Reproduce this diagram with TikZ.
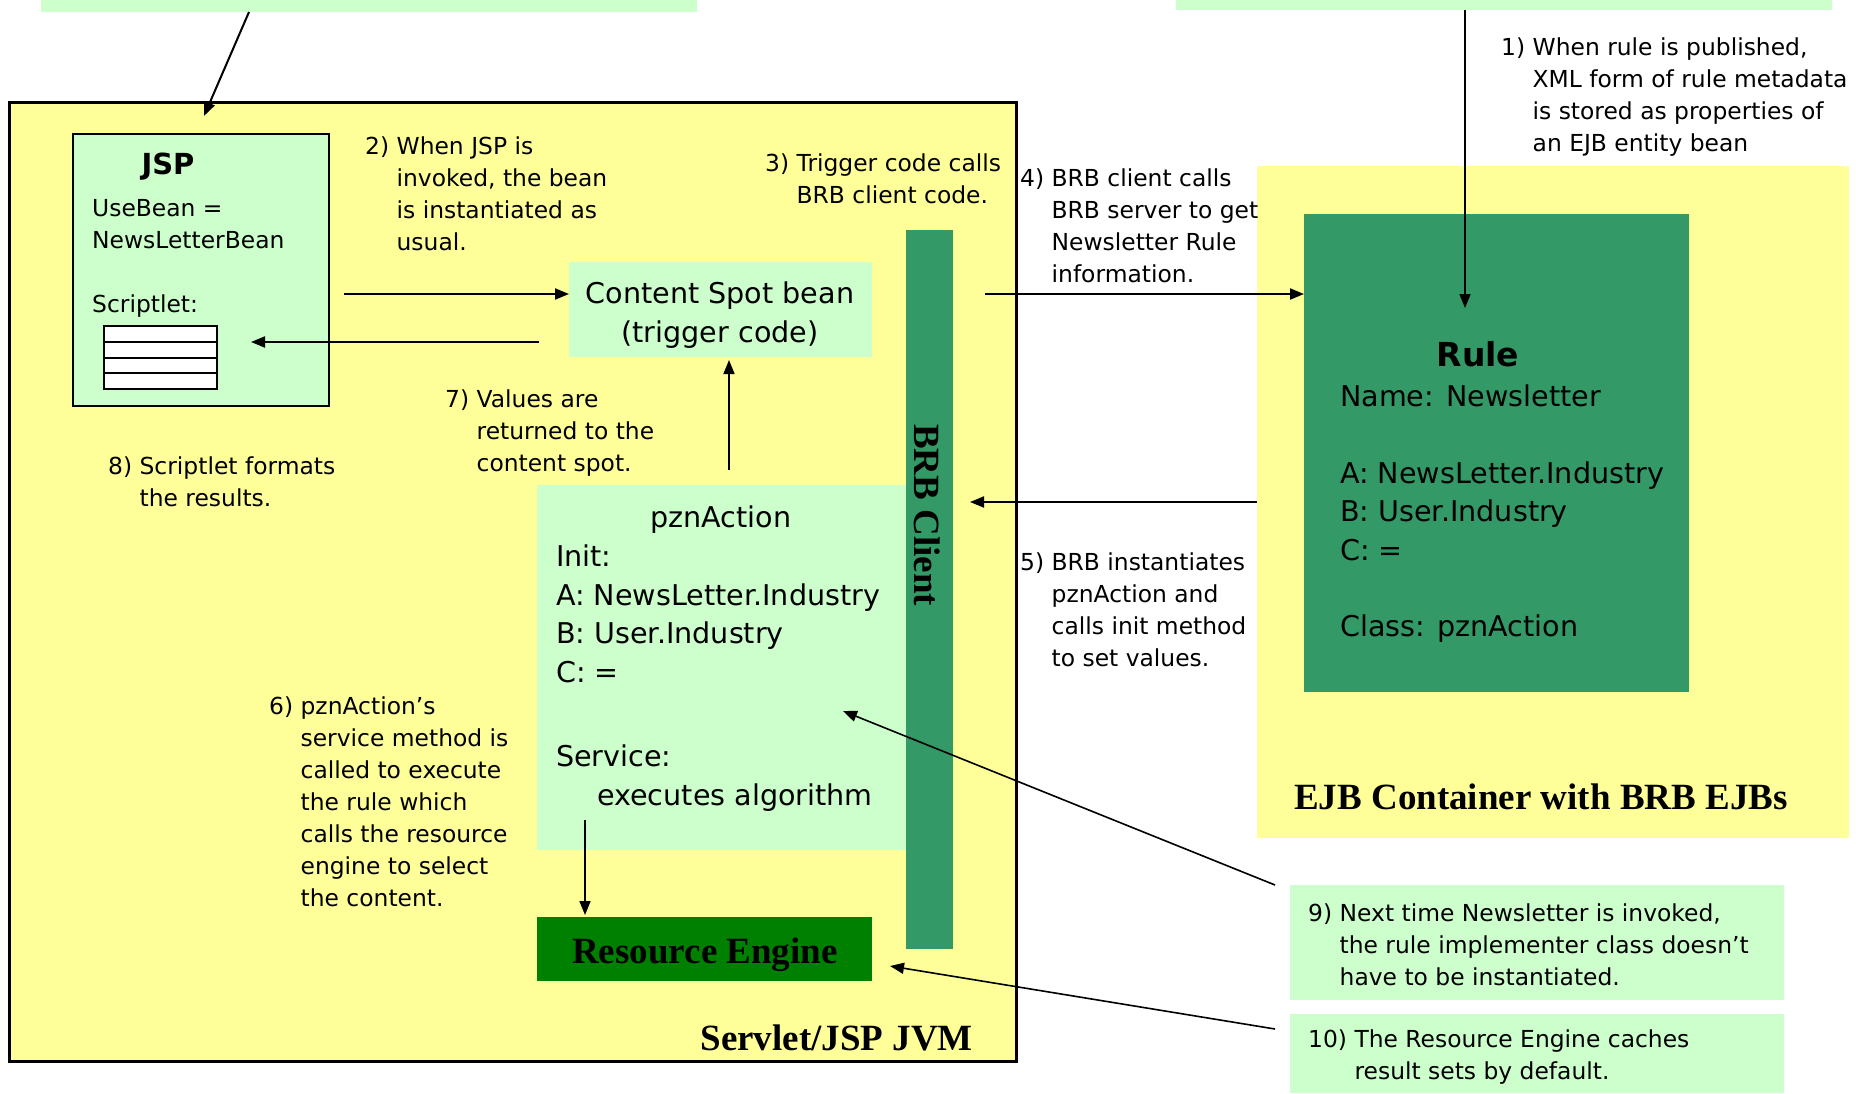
\documentclass[tikz,border=0pt]{standalone}
\usepackage{fontspec}
\setmainfont{DejaVu Sans}
\newfontfamily\timesbf{Liberation Serif}
\usepackage{tikz}
\usetikzlibrary{arrows.meta}
\definecolor{jvmYellow}{HTML}{FFFF99}
\definecolor{paleGreen}{HTML}{CCFFCC}
\definecolor{ruleGreen}{HTML}{339966}
\definecolor{engineGreen}{HTML}{008000}
\newcommand{\ind}[1]{\hphantom{#1~}}

\begin{document}
\begin{tikzpicture}[x=1pt,y=-1pt,
	box/.style={anchor=north west,inner sep=0,outer sep=0},
	arr/.style={-{Triangle[length=14pt,width=11pt]},line width=2pt},
	note/.style={anchor=west,align=left,inner sep=0,font=\fontsize{23.4}{32}\selectfont},
	big/.style={inner sep=0,font=\fontsize{28.6}{38.5}\selectfont},
	serifbold/.style={inner sep=0,font=\timesbf\bfseries\fontsize{37}{40}\selectfont}]
	\useasboundingbox (0,0) rectangle (1856,1093);
	% boxes
	\node[box,fill=paleGreen,minimum width=656,minimum height=52] (topL) at (41,-40) {};
	\node[box,fill=paleGreen,minimum width=656,minimum height=50] (topR) at (1176,-40) {};
	\node[box,fill=jvmYellow,draw,line width=3pt,minimum width=1007,minimum height=959] (jvm) at (9,102) {};
	\node[box,fill=jvmYellow,minimum width=592,minimum height=672] (ejb) at (1257,166) {};
	\node[box,fill=ruleGreen,minimum width=385,minimum height=478] (rule) at (1304,214) {};
	\node[box,fill=paleGreen,draw,line width=2.5pt,minimum width=256,minimum height=272] (jsp) at (73,134) {};
	\node[box,fill=white,draw,line width=2pt,minimum width=113,minimum height=63] (tbl) at (104,326) {};
	\foreach \k in {1,2,3}
		\draw[line width=2pt] (tbl.north west) ++(0,\k*15.75) -- ++(113,0);
	\node[box,fill=paleGreen,minimum width=303,minimum height=95] (cs) at (569,262) {};
	\node[box,fill=paleGreen,minimum width=369,minimum height=365] (pzn) at (537,485) {};
	\node[box,fill=ruleGreen,minimum width=47,minimum height=719] (brb) at (906,230) {};
	\node[box,fill=engineGreen,minimum width=335,minimum height=64] (re) at (537,917) {};
	\node[box,fill=paleGreen,minimum width=494,minimum height=115] (n9) at (1290,885) {};
	\node[box,fill=paleGreen,minimum width=494,minimum height=79] (n10) at (1290,1014) {};

	% box texts
	\node[inner sep=0,font=\bfseries\fontsize{29}{32}\selectfont] (jspT) at (168,167) {JSP};
	\node[note] (jspL) at (92,258) {UseBean =\\NewsLetterBean\\[32pt]Scriptlet:};
	\node[big,align=center] (csT) at (720,315) {Content Spot bean\\(trigger code)};
	\node[big] (pznT) at (721,520) {pznAction};
	\node[big,anchor=west,align=left] (pznL) at (556,678) {Init:\\A: NewsLetter.Industry\\B: User.Industry\\C: =\\[46pt]Service:\\\hspace*{41pt}executes algorithm};
	\node[inner sep=0,font=\bfseries\fontsize{33}{36}\selectfont] (ruleT) at (1478,354) {Rule};
	\node[big,anchor=west,align=left] (ruleL) at (1340,514) {Name: Newsletter\\[38pt]A: NewsLetter.Industry\\B: User.Industry\\C: =\\[38pt]Class: pznAction};
	\node[serifbold,rotate=-90] (brbT) at (927,515) {BRB Client};
	\node[serifbold] (reT) at (705,955) {Resource Engine};
	\node[serifbold,anchor=east] (jvmT) at ([shift={(-43,-23)}]jvm.south east) {Servlet/JSP JVM};
	\node[serifbold,anchor=west] (ejbT) at ([shift={(37,-41)}]ejb.south west) {EJB Container with BRB EJBs};

	% numbered notes
	\node[note] (s1) at (1501,97.5) {1) When rule is published,\\\ind{1)}XML form of rule metadata\\\ind{1)}is stored as properties of\\\ind{1)}an EJB entity bean};
	\node[note] (s2) at (365,193.5) {2) When JSP is\\\ind{2)}invoked, the bean\\\ind{2)}is instantiated as\\\ind{2)}usual.};
	\node[note] (s3) at (765,178.5) {3) Trigger code calls\\\ind{3)}BRB client code.};
	\node[note] (s4) at (1020,225.5) {4) BRB client calls\\\ind{4)}BRB server to get\\\ind{4)}Newsletter Rule\\\ind{4)}information.};
	\node[note] (s5) at (1020,609.5) {5) BRB instantiates\\\ind{5)}pznAction and\\\ind{5)}calls init method\\\ind{5)}to set values.};
	\node[note] (s6) at (269,801.5) {6) pznAction’s\\\ind{6)}service method is\\\ind{6)}called to execute\\\ind{6)}the rule which\\\ind{6)}calls the resource\\\ind{6)}engine to select\\\ind{6)}the content.};
	\node[note] (s7) at (445,433.5) {7) Values are\\\ind{7)}returned to the\\\ind{7)}content spot.};
	\node[note] (s8) at (108,481.5) {8) Scriptlet formats\\\ind{8)}the results.};
	\node[note] (s9) at (1308,944.5) {9) Next time Newsletter is invoked,\\\ind{9)}the rule implementer class doesn’t\\\ind{9)}have to be instantiated.};
	\node[note] (s10) at (1308,1057.5) {10) The Resource Engine caches\\\ind{10)}result sets by default.};

	% connectors
	\coordinate (jspIn) at (204,116);
	\coordinate (ruleIn) at (1465,308);
	\draw[arr] ([xshift=208]topL.south west) -- (jspIn);
	\draw[arr,line width=1.6pt] ([xshift=289]topR.south west) -- (ruleIn);
	\draw[arr] ([shift={(15,24)}]jsp.east) -- ([yshift=15.5]cs.west);
	\draw[arr] ([shift={(-30,32.5)}]cs.west) -- ([shift={(34,-15.5)}]tbl.east);
	\draw[arr,line width=1.6pt] ([shift={(7.5,-15)}]pzn.north) -- ([shift={(8.5,3)}]cs.south);
	\draw[arr] ([shift={(32,64)}]brb.north east) -- ([shift={(0,80)}]rule.north west);
	\draw[arr] (ejb.west) -- ([shift={(17,272)}]brb.north east);
	\draw[arr,line width=1.6pt] ([shift={(48,-30)}]pzn.south west) -- ([shift={(48,-2)}]re.north west);
	\draw[arr,line width=1.6pt] ([xshift=-15]n9.north west) -- ([shift={(306,226)}]pzn.north west);
	\draw[arr,line width=1.6pt] ([shift={(-15,15)}]n10.north west) -- ([shift={(18,49)}]re.north east);
\end{tikzpicture}
\end{document}
